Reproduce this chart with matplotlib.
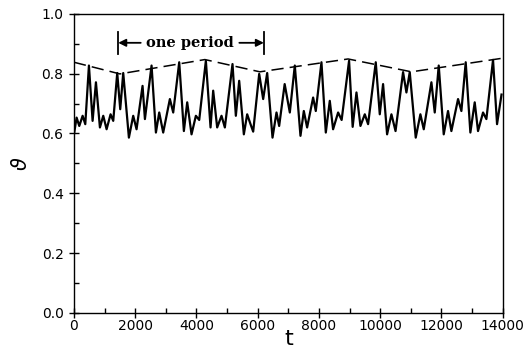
import matplotlib
matplotlib.use('Agg')
import matplotlib.pyplot as plt
from matplotlib.ticker import MultipleLocator

# extrema of the solid curve
t_pts = [0, 87, 174, 283, 370, 489, 609, 718, 848, 957, 1066, 1196, 1283,
         1413, 1511, 1609, 1794, 1935, 2044, 2240, 2317, 2534, 2676, 2784,
         2914, 3132, 3241, 3437, 3589, 3698, 3839, 3981, 4090, 4307, 4460,
         4546, 4676, 4818, 4927, 5177, 5286, 5395, 5547, 5656, 5765, 5852,
         6048, 6178, 6309, 6483, 6613, 6700, 6880, 7048, 7211, 7396, 7505,
         7613, 7809, 7896, 8081, 8223, 8353, 8461, 8625, 8740, 8983, 9100,
         9224, 9354, 9496, 9604, 9854, 9985, 10093, 10224, 10366, 10500,
         10746, 10855, 10964, 11159, 11311, 11421, 11671, 11780, 11910,
         12073, 12214, 12323, 12541, 12650, 12791, 12943, 13085, 13193,
         13357, 13466, 13683, 13814, 13960]
theta_pts = [0.597, 0.653, 0.625, 0.659, 0.631, 0.827, 0.642, 0.771, 0.620,
             0.659, 0.614, 0.664, 0.642, 0.802, 0.681, 0.802, 0.586, 0.659,
             0.614, 0.759, 0.648, 0.827, 0.603, 0.670, 0.603, 0.715, 0.670,
             0.838, 0.608, 0.704, 0.597, 0.659, 0.645, 0.843, 0.620, 0.743,
             0.620, 0.659, 0.620, 0.832, 0.659, 0.776, 0.597, 0.664, 0.631,
             0.606, 0.799, 0.715, 0.802, 0.586, 0.670, 0.625, 0.765, 0.670,
             0.827, 0.592, 0.675, 0.620, 0.720, 0.675, 0.838, 0.603, 0.709,
             0.614, 0.670, 0.645, 0.843, 0.622, 0.737, 0.625, 0.664, 0.631,
             0.838, 0.664, 0.765, 0.597, 0.664, 0.608, 0.805, 0.737, 0.805,
             0.586, 0.664, 0.614, 0.771, 0.670, 0.827, 0.597, 0.675, 0.608,
             0.715, 0.675, 0.838, 0.603, 0.704, 0.608, 0.670, 0.648, 0.846,
             0.631, 0.730]

# dashed envelope
env_t = [0, 1500, 4275, 6070, 8950, 11020, 13960]
env_theta = [0.838, 0.799, 0.847, 0.806, 0.849, 0.806, 0.851]

fig = plt.figure(figsize=(5.32, 3.63), dpi=100)
ax = fig.add_axes([0.139, 0.138, 0.806, 0.824])

ax.plot(t_pts, theta_pts, color='k', lw=1.6, solid_joinstyle='round')
ax.plot(env_t, env_theta, color='k', lw=1.1, dashes=(8, 4))

# "one period" marker
y_arr = 0.903
ax.plot([1446, 1446], [0.866, 0.94], color='k', lw=1.3)
ax.plot([6200, 6200], [0.866, 0.94], color='k', lw=1.3)
ax.text(3790, y_arr, 'one period', ha='center', va='center',
        family='DejaVu Serif', fontsize=10.5, fontweight='bold')
ax.annotate('', xy=(1446, y_arr), xytext=(2180, y_arr),
            arrowprops=dict(arrowstyle='-|>', color='k', lw=1.3, mutation_scale=11,
                            shrinkA=0, shrinkB=0))
ax.annotate('', xy=(6200, y_arr), xytext=(5400, y_arr),
            arrowprops=dict(arrowstyle='-|>', color='k', lw=1.3, mutation_scale=11,
                            shrinkA=0, shrinkB=0))

ax.set_xlim(0, 14000)
ax.set_ylim(0, 1.0)
ax.xaxis.set_major_locator(MultipleLocator(2000))
ax.xaxis.set_minor_locator(MultipleLocator(1000))
ax.yaxis.set_major_locator(MultipleLocator(0.2))
ax.yaxis.set_minor_locator(MultipleLocator(0.1))
ax.yaxis.set_major_formatter(plt.FormatStrFormatter('%.1f'))

ax.tick_params(which='major', direction='inout', length=7, width=1, labelsize=10)
ax.tick_params(which='minor', direction='in', length=3.5, width=1)
ax.tick_params(axis='y', which='major', pad=4)
ax.tick_params(axis='x', which='major', pad=1)
for s in ax.spines.values():
    s.set_linewidth(1)

ax.set_xlabel('t', fontsize=16)
ax.set_ylabel(r'$\vartheta$', fontsize=15)
ax.xaxis.set_label_coords(0.5, -0.055)
ax.yaxis.set_label_coords(-0.1, 0.5)

plt.savefig('out.png', dpi=100)
